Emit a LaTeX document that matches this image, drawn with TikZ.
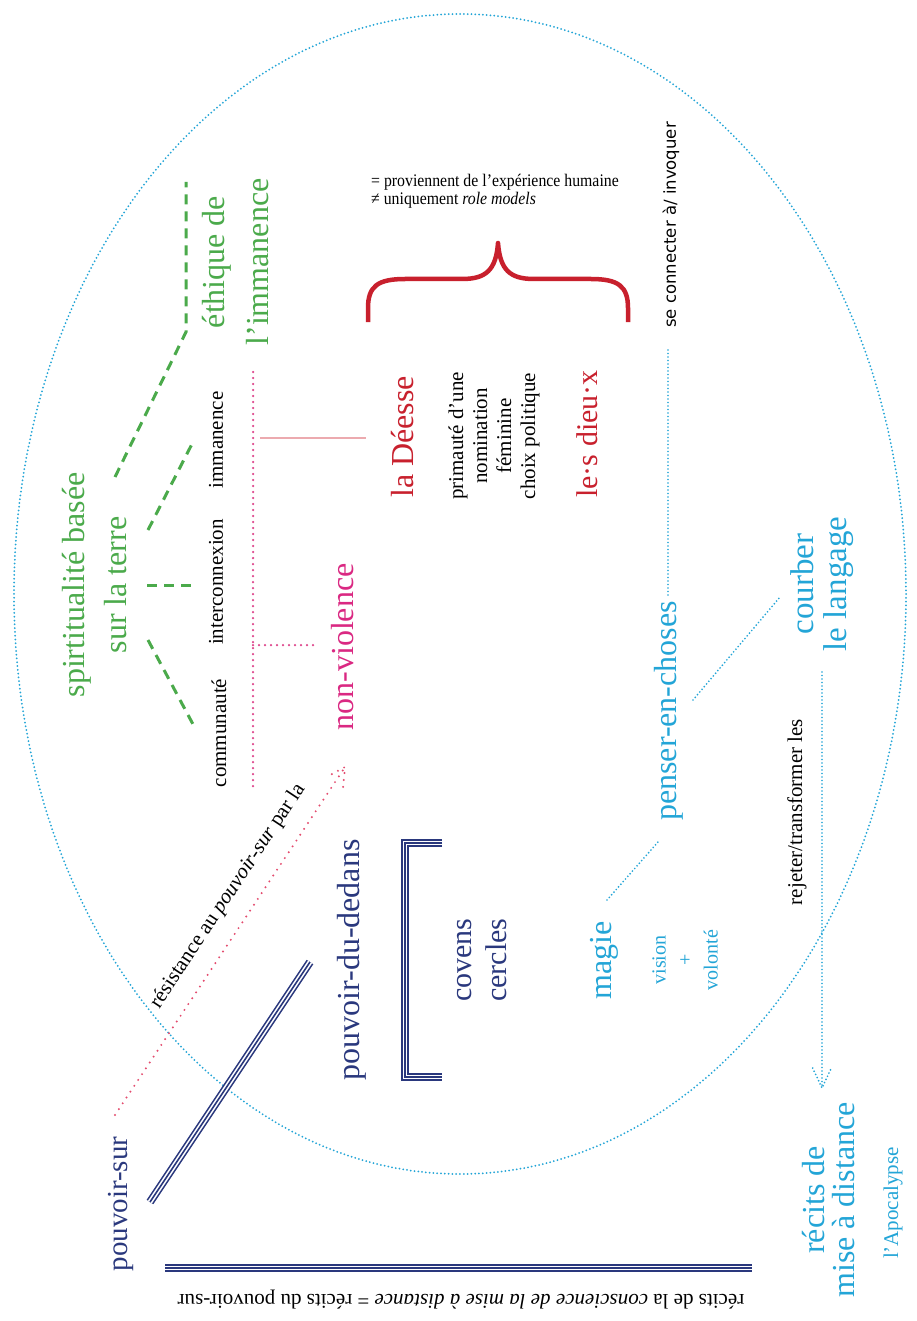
\documentclass[tikz,border=0pt]{standalone}
\usepackage{fontspec}
\setmainfont{Liberation Serif}
\newfontfamily\dejavu{DejaVu Sans}
\usetikzlibrary{calc}
\definecolor{cgreen}{RGB}{75,170,75}
\definecolor{ccyan}{RGB}{35,165,215}
\definecolor{cnavy}{RGB}{42,56,125}
\definecolor{cmag}{RGB}{218,40,130}
\definecolor{cred}{RGB}{200,32,45}
\definecolor{cpinkdot}{RGB}{222,70,140}
\definecolor{carrowpink}{RGB}{228,75,110}
\definecolor{csalmon}{RGB}{236,170,175}
\newcommand\tripleline[1]{%
  \draw[cnavy,line width=8pt,line join=miter]#1;
  \draw[white,line width=4.8pt,line join=miter]#1;
  \draw[cnavy,line width=1.6pt,line join=miter]#1;}
\tikzset{
  vt/.style={rotate=90,inner sep=0pt,align=center},
  big/.style={font=\fontsize{32}{42}\selectfont},
  small/.style={font=\fontsize{21}{24}\selectfont},
  ell/.style={draw=ccyan,line width=2pt,line cap=round,dash pattern=on 0pt off 3.8pt},
  cdot/.style={draw=ccyan,line width=1.9pt,line cap=round,dash pattern=on 0pt off 3.5pt},
  pdot/.style={draw=cpinkdot,line width=2.5pt,line cap=round,dash pattern=on 0pt off 6pt},
  adot/.style={draw=carrowpink,line width=2.2pt,line cap=round,dash pattern=on 0pt off 7pt},
  gdash/.style={draw=cgreen,line width=3pt,dash pattern=on 10pt off 7pt},
}
\begin{document}
\begin{tikzpicture}[x=1pt,y=-1pt]
\useasboundingbox (0,0) rectangle (916,1321);
\fill[white] (0,0) rectangle (916,1321);
% big ellipse
\draw[ell] (460,594) ellipse (446 and 580);

% green part
\node[vt,big,text=cgreen] (spirit) at (95,585) {spirtitualité basée\\sur la terre};
\node[vt,font=\fontsize{32}{44}\selectfont,text=cgreen] (ethique) at (236,262) {éthique de\\l’immanence};
\node[vt,small] (commu) at (219,733) {communauté};
\node[vt,small] (inter) at (216,582) {interconnexion};
\node[vt,small] (imman) at (216,440) {immanence};
\coordinate (g1a) at (148,640); \coordinate (g1b) at (195,728);
\coordinate (g2a) at (147,585); \coordinate (g2b) at (195,585);
\coordinate (g3a) at (148,530); \coordinate (g3b) at (193,442);
\coordinate (g4a) at (115,477); \coordinate (g4b) at (186,332); \coordinate (g4c) at (186,182);
\draw[gdash] (g1a) -- (g1b);
\draw[gdash] (g2a) -- (g2b);
\draw[gdash] (g3a) -- (g3b);
\draw[gdash] (g4a) -- (g4b) -- (g4c);

% pink / red part
\coordinate (p1) at (253,372); \coordinate (p2) at (253,787);
\coordinate (p3) at (253,645); \coordinate (p4) at (318,645);
\draw[pdot] (p1) -- (p2);
\draw[pdot] (p3) -- (p4);
\coordinate (s1) at (260,438); \coordinate (s2) at (366,438);
\draw[csalmon,line width=2pt] (s1) -- (s2);
\node[vt,big,text=cmag] (nonv) at (343,647) {non-violence};
\node[vt,big,text=cred] (deesse) at (403,437) {la Déesse};
\node[vt,small] (prim) at (494,436) {primauté d’une\\nomination\\féminine\\choix politique};
\node[vt,font=\fontsize{30}{36}\selectfont,text=cred] (dieux) at (587,434) {le·s dieu·x};

% brace and its note
\draw[cred,line width=4.5pt,line join=round]
  (368,322) -- (368,308) .. controls (368,286) and (378,279) .. (405,279) -- (462,279)
  .. controls (486,279) and (496,270) .. (498,243)
  .. controls (500,270) and (510,279) .. (534,279) -- (591,279)
  .. controls (618,279) and (628,286) .. (628,308) -- (628,322);
\node[anchor=base west,inner sep=0pt,yscale=1.12,font=\fontsize{15.8}{18}\selectfont] (prov) at (371,187) {= proviennent de l’expérience humaine};
\node[anchor=base west,inner sep=0pt,yscale=1.12,font=\fontsize{15.8}{18}\selectfont] (uniq) at (371,205) {≠ uniquement \textit{role models}};

% cyan part
\node[vt,font=\dejavu\fontsize{16.5}{20}\selectfont] (seconn) at (671,225) {se connecter à/ invoquer};
\node[vt,big,text=ccyan] (penser) at (669,711) {penser-en-choses};
\node[vt,font=\fontsize{33}{33}\selectfont,text=ccyan] (courber) at (822,584) {courber\\le langage};
\node[vt,small] (rejeter) at (797,812) {rejeter/transformer les};
\node[vt,big,text=ccyan] (magie) at (604,960) {magie};
\node[vt,font=\fontsize{20}{26}\selectfont,text=ccyan] (vision) at (685,960) {vision\\+\\volonté};
\coordinate (c1) at (668,350); \coordinate (c2) at (668,597);
\coordinate (c3) at (693,700); \coordinate (c4) at (780,597);
\coordinate (c5) at (607,900); \coordinate (c6) at (658,842);
\coordinate (c7) at (822,672); \coordinate (c8) at (822,1088);
\draw[cdot] (c1) -- (c2);
\draw[cdot] (c3) -- (c4);
\draw[cdot] (c5) -- (c6);
\draw[cdot] (c7) -- (c8);
\draw[cdot] ($(c8)!22pt!25:(c7)$) -- (c8) -- ($(c8)!22pt!-25:(c7)$);
\node[vt,font=\fontsize{32}{30}\selectfont,text=ccyan] (recits) at (829,1200) {récits de\\mise à distance};
\node[vt,font=\fontsize{21}{24}\selectfont,text=ccyan] (apoc) at (893,1203) {l’Apocalypse};

% navy part
\node[vt,big,text=cnavy] (pdd) at (352,960) {pouvoir-du-dedans};
\node[vt,font=\fontsize{30}{35}\selectfont,text=cnavy] (covens) at (482,960) {covens\\cercles};
\tripleline{(442,843) -- (405,843) -- (405,1077) -- (442,1077)}
\tripleline{(310,962) -- (150,1202)}
\tripleline{(165,1268) -- (752,1268)}
\node[vt,font=\fontsize{29}{34}\selectfont,text=cnavy] (psur) at (121,1204) {pouvoir-sur};
\node[rotate=180,inner sep=0pt,font=\fontsize{21}{24}\selectfont] (bottom) at (461,1300)
  {récits de la \textit{conscience de la mise à distance} = récits du pouvoir-sur};

% resistance arrow
\coordinate (ra) at (115,1115); \coordinate (rb) at (345,767);
\draw[adot] (ra) -- (rb);
\draw[adot] ($(rb)!20pt!28:(ra)$) -- (rb) -- ($(rb)!20pt!-28:(ra)$);
\node[rotate=56.5,inner sep=0pt,font=\fontsize{21}{24}\selectfont] (resist) at (228,896)
  {résistance au \textit{pouvoir-sur} par la};
\end{tikzpicture}
\end{document}
